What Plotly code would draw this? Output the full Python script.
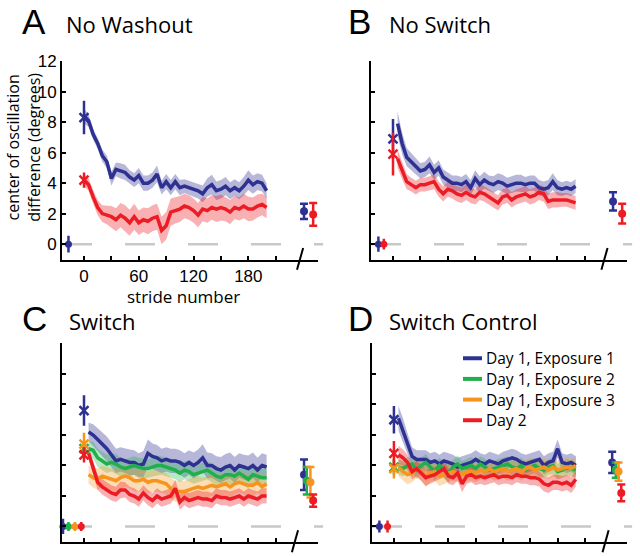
import plotly.graph_objects as go

# ---------------- data ----------------
strides_a = list(range(0, 201, 5))   # panel A curves start at stride 0
strides = list(range(5, 201, 5))     # panels B-D curves start at stride 5

# Panel A: No Washout
a_day1 = [8.4, 8.1, 7.2, 6.6, 5.8, 5.4, 4.3, 4.9, 4.8, 4.7, 4.4, 4.2, 4.5, 4.0, 4.0, 4.2, 4.6, 3.7, 4.1, 3.7,
          4.1, 3.7, 3.8, 3.7, 3.6, 3.5, 3.3, 3.7, 3.9, 3.5, 3.6, 3.8, 3.5, 3.7, 3.5, 3.8, 4.2, 3.9, 4.1, 4.0, 3.5]
a_day1_sem = [0.5, 0.4, 0.35, 0.35, 0.4, 0.4, 0.45, 0.45, 0.5, 0.5, 0.45, 0.45, 0.5, 0.5, 0.5, 0.5, 0.55, 0.45, 0.5, 0.5,
              0.5, 0.5, 0.45, 0.45, 0.5, 0.5, 0.55, 0.6, 0.65, 0.6, 0.6, 0.6, 0.55, 0.55, 0.55, 0.6, 0.65, 0.6, 0.55, 0.55, 0.5]
a_day2 = [4.2, 3.9, 3.1, 2.4, 2.0, 1.9, 1.8, 1.6, 1.9, 1.7, 1.4, 1.8, 1.4, 1.6, 1.5, 1.7, 1.8, 0.9, 1.2, 2.1,
          2.2, 2.3, 2.5, 2.4, 2.2, 1.9, 2.3, 2.2, 2.4, 2.3, 2.4, 2.3, 2.1, 2.4, 2.3, 2.5, 2.3, 2.3, 2.5, 2.6, 2.4]
a_day2_sem = [0.4, 0.4, 0.45, 0.5, 0.55, 0.6, 0.7, 0.75, 0.8, 0.85, 0.85, 0.85, 0.8, 0.8, 0.85, 0.85, 0.85, 0.9, 0.9, 0.9,
              0.85, 0.85, 0.8, 0.8, 0.8, 0.8, 0.8, 0.8, 0.8, 0.85, 0.85, 0.8, 0.8, 0.75, 0.75, 0.8, 0.8, 0.75, 0.75, 0.7, 0.7]

# Panel B: No Switch
b_day1 = [7.9, 6.6, 5.7, 5.4, 5.1, 4.8, 4.9, 5.2, 4.7, 5.0, 4.4, 4.2, 4.0, 4.0, 3.9, 4.1, 3.7, 4.3, 3.9, 4.2,
          4.0, 3.9, 4.1, 4.0, 3.8, 3.9, 4.0, 4.0, 3.9, 4.0, 4.0, 3.7, 3.6, 3.7, 4.1, 3.7, 3.6, 3.7, 3.6, 3.8]
b_day1_sem = [0.8, 0.7, 0.6, 0.55, 0.5, 0.5, 0.5, 0.55, 0.5, 0.5, 0.5, 0.5, 0.5, 0.5, 0.5, 0.5, 0.5, 0.55, 0.55, 0.55,
              0.5, 0.55, 0.55, 0.55, 0.55, 0.55, 0.55, 0.55, 0.5, 0.5, 0.5, 0.5, 0.5, 0.5, 0.55, 0.5, 0.45, 0.45, 0.45, 0.45]
b_day2 = [5.6, 4.8, 4.1, 3.9, 3.7, 3.9, 3.9, 4.0, 4.1, 3.6, 3.3, 3.6, 3.5, 3.3, 3.2, 3.4, 3.2, 3.1, 3.4, 3.3,
          3.1, 2.9, 2.7, 3.1, 3.2, 2.9, 3.1, 3.2, 3.3, 3.1, 3.2, 3.4, 3.3, 2.8, 2.9, 2.9, 2.9, 2.9, 2.8, 2.7]
b_day2_sem = [0.6, 0.55, 0.5, 0.45, 0.45, 0.45, 0.45, 0.45, 0.5, 0.5, 0.5, 0.5, 0.5, 0.5, 0.5, 0.5, 0.5, 0.5, 0.5, 0.5,
              0.5, 0.5, 0.5, 0.5, 0.5, 0.5, 0.5, 0.5, 0.5, 0.5, 0.5, 0.5, 0.5, 0.5, 0.5, 0.5, 0.45, 0.45, 0.45, 0.45]

# Panel C: Switch
c_exp1 = [6.2, 6.0, 5.7, 5.4, 5.1, 4.7, 4.3, 4.4, 4.3, 4.2, 4.2, 4.0, 4.1, 4.8, 4.6, 4.5, 4.3, 4.4, 4.3, 4.3,
          4.2, 4.0, 4.2, 4.0, 4.2, 4.5, 4.0, 4.0, 3.8, 3.7, 3.9, 4.0, 3.7, 4.0, 3.9, 3.8, 4.0, 3.7, 4.0, 3.9]
c_exp1_sem = [0.6, 0.7, 0.75, 0.8, 0.8, 0.8, 0.8, 0.8, 0.8, 0.85, 0.8, 0.8, 0.85, 0.9, 0.85, 0.85, 0.8, 0.8, 0.8, 0.8,
              0.8, 0.8, 0.8, 0.85, 0.85, 0.9, 0.85, 0.8, 0.8, 0.85, 0.85, 0.85, 0.85, 0.8, 0.8, 0.85, 0.85, 0.8, 0.8, 0.8]
c_exp2 = [5.1, 5.0, 4.5, 4.3, 4.1, 4.2, 4.1, 3.9, 3.8, 3.9, 4.0, 3.9, 3.8, 3.8, 3.9, 4.0, 4.0, 3.9, 3.8, 3.7,
          3.5, 3.7, 3.6, 3.4, 3.5, 3.6, 3.7, 3.5, 3.3, 3.2, 3.4, 3.4, 3.3, 3.5, 3.3, 3.1, 3.4, 3.3, 3.2, 3.2]
c_exp2_sem = [0.5, 0.55, 0.6, 0.6, 0.6, 0.6, 0.65, 0.6, 0.6, 0.6, 0.6, 0.6, 0.65, 0.6, 0.6, 0.65, 0.6, 0.6, 0.6, 0.6,
              0.6, 0.6, 0.65, 0.6, 0.6, 0.6, 0.6, 0.6, 0.65, 0.6, 0.6, 0.6, 0.6, 0.6, 0.65, 0.6, 0.6, 0.6, 0.6, 0.6]
c_exp3 = [3.4, 3.2, 3.1, 3.3, 3.2, 3.1, 3.0, 3.2, 3.3, 3.2, 3.0, 3.0, 3.1, 2.9, 3.0, 3.0, 2.9, 2.8, 2.5, 2.3,
          2.3, 2.3, 2.4, 2.5, 2.6, 2.5, 2.6, 2.7, 2.6, 2.7, 2.8, 2.6, 2.8, 2.9, 2.8, 2.7, 2.7, 2.9, 2.6, 2.8]
c_exp3_sem = [0.6, 0.65, 0.7, 0.7, 0.7, 0.7, 0.7, 0.75, 0.7, 0.7, 0.7, 0.7, 0.7, 0.7, 0.75, 0.7, 0.7, 0.7, 0.7, 0.7,
              0.7, 0.7, 0.7, 0.75, 0.7, 0.7, 0.7, 0.7, 0.7, 0.7, 0.7, 0.75, 0.7, 0.7, 0.7, 0.7, 0.7, 0.7, 0.7, 0.7]
c_day2 = [4.8, 3.9, 2.9, 2.6, 2.4, 2.2, 2.1, 2.4, 2.4, 2.1, 2.0, 1.8, 2.2, 1.9, 1.7, 2.0, 1.8, 1.9, 2.0, 2.5,
          1.6, 1.9, 1.7, 1.8, 1.9, 1.8, 1.8, 1.7, 2.0, 1.9, 1.9, 1.8, 1.9, 2.0, 1.8, 2.0, 1.9, 1.8, 2.0, 2.0]
c_day2_sem = [0.4, 0.45, 0.5, 0.5, 0.5, 0.5, 0.5, 0.55, 0.5, 0.5, 0.5, 0.5, 0.5, 0.5, 0.5, 0.5, 0.5, 0.5, 0.5, 0.55,
              0.5, 0.5, 0.5, 0.5, 0.5, 0.5, 0.5, 0.5, 0.5, 0.5, 0.5, 0.5, 0.5, 0.5, 0.5, 0.5, 0.5, 0.5, 0.5, 0.5]

# Panel D: Switch Control
d_exp1 = [7.1, 6.3, 5.4, 4.6, 4.4, 4.4, 4.4, 4.2, 4.3, 4.1, 4.3, 4.2, 4.1, 3.9, 4.0, 4.1, 4.2, 4.4, 4.2, 4.1,
          4.3, 4.2, 4.1, 4.3, 4.4, 4.5, 4.4, 4.2, 4.1, 4.2, 4.3, 4.4, 4.0, 4.2, 4.3, 5.1, 4.2, 4.1, 4.2, 4.0]
d_exp1_sem = [0.8, 0.8, 0.7, 0.6, 0.6, 0.6, 0.6, 0.6, 0.6, 0.6, 0.6, 0.6, 0.6, 0.6, 0.6, 0.6, 0.6, 0.6, 0.6, 0.6,
              0.6, 0.6, 0.6, 0.6, 0.6, 0.6, 0.6, 0.6, 0.6, 0.6, 0.6, 0.6, 0.6, 0.6, 0.6, 0.6, 0.6, 0.6, 0.6, 0.6]
d_exp2 = [3.9, 3.8, 4.0, 4.1, 3.7, 4.0, 4.2, 3.9, 3.6, 4.0, 3.7, 3.5, 3.9, 4.1, 3.8, 3.9, 4.0, 3.8, 4.1, 3.9,
          3.7, 3.8, 3.9, 4.0, 4.1, 3.9, 3.8, 4.0, 3.7, 3.9, 4.0, 3.8, 3.7, 3.9, 4.0, 3.6, 3.7, 3.9, 3.8, 3.7]
d_exp2_sem = [0.5, 0.5, 0.55, 0.5, 0.6, 0.5, 0.55, 0.5, 0.6, 0.5, 0.55, 0.6, 0.5, 0.55, 0.5, 0.5, 0.55, 0.5, 0.5, 0.55,
              0.5, 0.5, 0.55, 0.5, 0.5, 0.55, 0.5, 0.5, 0.55, 0.5, 0.5, 0.55, 0.5, 0.5, 0.55, 0.5, 0.5, 0.5, 0.5, 0.5]
d_exp3 = [3.9, 3.6, 3.4, 3.5, 3.8, 3.6, 3.3, 3.5, 3.6, 3.3, 3.4, 3.5, 3.6, 3.5, 3.4, 3.6, 3.6, 3.5, 3.7, 3.6,
          3.8, 3.6, 3.7, 3.8, 3.6, 3.7, 3.8, 3.6, 3.8, 3.9, 3.7, 3.8, 3.9, 3.7, 3.9, 3.7, 3.8, 3.9, 3.8, 4.0]
d_exp3_sem = [0.6, 0.6, 0.65, 0.6, 0.6, 0.6, 0.7, 0.6, 0.6, 0.65, 0.6, 0.6, 0.6, 0.6, 0.6, 0.6, 0.6, 0.6, 0.6, 0.6,
              0.6, 0.6, 0.6, 0.6, 0.6, 0.6, 0.6, 0.6, 0.6, 0.6, 0.6, 0.6, 0.6, 0.6, 0.6, 0.6, 0.6, 0.6, 0.6, 0.6]
d_day2 = [4.7, 4.5, 4.2, 3.6, 3.8, 3.5, 3.2, 3.3, 3.4, 3.6, 3.8, 3.3, 3.2, 3.5, 2.8, 3.3, 3.4, 3.2, 3.3, 3.2,
          3.3, 3.4, 3.2, 3.3, 3.3, 3.2, 3.4, 3.3, 3.3, 3.2, 3.2, 3.1, 2.8, 2.7, 2.9, 2.9, 2.8, 2.9, 2.7, 3.1]
d_day2_sem = [0.6, 0.55, 0.5, 0.5, 0.5, 0.5, 0.55, 0.5, 0.5, 0.5, 0.55, 0.5, 0.5, 0.5, 0.55, 0.5, 0.5, 0.5, 0.5, 0.5,
              0.5, 0.5, 0.5, 0.5, 0.5, 0.5, 0.5, 0.5, 0.5, 0.5, 0.5, 0.5, 0.5, 0.5, 0.5, 0.5, 0.5, 0.5, 0.5, 0.5]

# first-stride values (x marker at stride 0), mean and error
first_stride = 0
a_first = {"e1": (8.3, 1.1), "d2": (4.2, 0.5)}
b_first = {"e1": (6.9, 1.3), "d2": (5.9, 1.4)}
c_first = {"e1": (7.6, 1.0), "e2": (5.1, 0.4), "e3": (5.4, 0.75), "d2": (4.7, 0.5)}
d_first = {"e1": (7.0, 0.9), "e2": (3.9, 0.5), "e3": (3.8, 0.65), "d2": (4.8, 0.8)}

# baseline values (left of stride 0): position, mean, error
a_base = {"e1": (-17, 0.0, 0.55)}
b_base = {"e1": (-16, 0.0, 0.5), "d2": (-10, 0.0, 0.35)}
c_base = {"e1": (-23, 0.0, 0.5), "e2": (-17, 0.0, 0.3), "e3": (-10, 0.0, 0.3), "d2": (-3, 0.0, 0.3)}
d_base = {"e1": (-16, 0.0, 0.4), "d2": (-7, 0.0, 0.4)}

# post-break values (right of axis break): position, mean, error
a_post = {"e1": (241, 2.15, 0.5), "d2": (251, 1.95, 0.75)}
b_post = {"e1": (241, 2.8, 0.6), "d2": (251, 2.0, 0.65)}
c_post = {"e1": (241, 3.4, 1.0), "e2": (244, 3.0, 0.9), "e3": (248, 2.9, 1.0), "d2": (251, 1.7, 0.4)}
d_post = {"e1": (240, 4.2, 0.7), "e2": (244, 3.7, 0.5), "e3": (247, 3.6, 0.6), "d2": (250, 2.2, 0.55)}

series_names = {"e1": "Day 1, Exposure 1", "e2": "Day 1, Exposure 2", "e3": "Day 1, Exposure 3", "d2": "Day 2"}
x_tick_vals = [0, 30, 60, 90, 120, 150, 180, 210]
x_tick_text = ["0", "", "60", "", "120", "", "180", ""]
y_tick_vals = [0, 2, 4, 6, 8, 10, 12]

# ---------------- styling ----------------
line_col = {"e1": "#2e3192", "e2": "#1fb04b", "e3": "#f7941d", "d2": "#ed1c24"}
band_col = {"e1": "rgba(46,49,146,0.35)", "e2": "rgba(31,176,75,0.30)",
            "e3": "rgba(247,148,29,0.32)", "d2": "rgba(237,28,36,0.35)"}
W, H = 640, 556


def px(x):
    return x / W


def py(y):
    return 1 - y / H


panels = [
    dict(letter="A", title="No Washout", xs=strides_a,
         curves={"e1": (a_day1, a_day1_sem), "d2": (a_day2, a_day2_sem)},
         first=a_first, base=a_base, post=a_post,
         xdom=(62, 318), ydom=(53, 255), brk=0.93,
         let_xy=(20, 13), tit_xy=(64, 15)),
    dict(letter="B", title="No Switch", xs=strides,
         curves={"e1": (b_day1, b_day1_sem), "d2": (b_day2, b_day2_sem)},
         first=b_first, base=b_base, post=b_post,
         xdom=(371, 627), ydom=(53, 255), brk=0.912,
         let_xy=(346, 13), tit_xy=(387, 15)),
    dict(letter="C", title="Switch", xs=strides,
         curves={"e1": (c_exp1, c_exp1_sem), "e2": (c_exp2, c_exp2_sem),
                 "e3": (c_exp3, c_exp3_sem), "d2": (c_day2, c_day2_sem)},
         first=c_first, base=c_base, post=c_post,
         xdom=(62, 318), ydom=(340, 542), brk=0.91,
         let_xy=(20, 315), tit_xy=(67, 317)),
    dict(letter="D", title="Switch Control", xs=strides,
         curves={"e1": (d_exp1, d_exp1_sem), "e2": (d_exp2, d_exp2_sem),
                 "e3": (d_exp3, d_exp3_sem), "d2": (d_day2, d_day2_sem)},
         first=d_first, base=d_base, post=d_post,
         xdom=(372, 627), ydom=(340, 542), brk=0.916,
         let_xy=(346, 315), tit_xy=(387, 317)),
]

fig = go.Figure()
shapes = []
annotations = []
layout_axes = {}

for i, p in enumerate(panels, start=1):
    xa = "x" if i == 1 else f"x{i}"
    ya = "y" if i == 1 else f"y{i}"
    xs = p["xs"]
    # bands
    for key, (m, s) in p["curves"].items():
        upper = [a + b for a, b in zip(m, s)]
        lower = [a - b for a, b in zip(m, s)]
        fig.add_trace(go.Scatter(x=xs + xs[::-1], y=upper + lower[::-1], fill="toself",
                                 fillcolor=band_col[key], line=dict(width=0), mode="lines",
                                 hoverinfo="skip", showlegend=False, xaxis=xa, yaxis=ya))
    # mean lines
    for key, (m, s) in p["curves"].items():
        fig.add_trace(go.Scatter(x=xs, y=m, mode="lines", line=dict(color=line_col[key], width=3.5),
                                 name=series_names[key], showlegend=False, xaxis=xa, yaxis=ya))
    # first stride markers
    for key, (v, e) in p["first"].items():
        fig.add_trace(go.Scatter(x=[first_stride], y=[v], mode="markers",
                                 marker=dict(symbol="x-thin", size=9, line=dict(color=line_col[key], width=2.5)),
                                 error_y=dict(type="data", array=[e], color=line_col[key], thickness=2.5, width=0),
                                 cliponaxis=False, showlegend=False, xaxis=xa, yaxis=ya))
    # baseline points
    for key, (xp, v, e) in p["base"].items():
        fig.add_trace(go.Scatter(x=[xp], y=[v], mode="markers",
                                 marker=dict(symbol="circle", size=7, color=line_col[key]),
                                 error_y=dict(type="data", array=[e], color=line_col[key], thickness=2.5, width=0),
                                 cliponaxis=False, showlegend=False, xaxis=xa, yaxis=ya))
    # post-break points
    for key, (xp, v, e) in p["post"].items():
        fig.add_trace(go.Scatter(x=[xp], y=[v], mode="markers",
                                 marker=dict(symbol="circle", size=8, color=line_col[key]),
                                 error_y=dict(type="data", array=[e], color=line_col[key], thickness=2.5, width=4),
                                 cliponaxis=False, showlegend=False, xaxis=xa, yaxis=ya))

    x0, x1 = p["xdom"]
    y0, y1 = p["ydom"]
    common = dict(showline=True, linecolor="black", linewidth=2, ticks="inside", ticklen=4,
                  tickwidth=1.5, tickcolor="black", showgrid=False, zeroline=False,
                  tickfont=dict(family="Liberation Sans, Arial, sans-serif", size=17, color="black"))
    xkey = "xaxis" if i == 1 else f"xaxis{i}"
    ykey = "yaxis" if i == 1 else f"yaxis{i}"
    layout_axes[xkey] = dict(common, domain=[px(x0), px(x1)], range=[-24.1, 256.3], anchor=ya,
                             tickvals=x_tick_vals, ticktext=x_tick_text, showticklabels=(i == 1))
    layout_axes[ykey] = dict(common, domain=[py(y1), py(y0)], range=[-1.032, 12], anchor=xa,
                             tickvals=y_tick_vals, showticklabels=(i == 1))

    # dashed zero line
    shapes.append(dict(type="line", xref=f"{xa} domain", yref=ya, x0=0, x1=1.02, y0=0, y1=0,
                       line=dict(color="#c8c8c8", width=2.5, dash="30px,33px"), layer="below"))
    # axis break mark
    b = p["brk"]
    shapes.append(dict(type="line", xref=f"{xa} domain", yref=f"{ya} domain",
                       x0=b - 0.012, x1=b + 0.012, y0=-0.05, y1=0.06,
                       line=dict(color="black", width=2)))

    lx, ly = p["let_xy"]
    tx, ty = p["tit_xy"]
    annotations.append(dict(text=p["letter"], x=px(lx), y=py(ly), xref="paper", yref="paper",
                            xanchor="left", yanchor="middle", showarrow=False,
                            font=dict(family="Liberation Sans, Arial, sans-serif", size=35, color="black")))
    annotations.append(dict(text=p["title"], x=px(tx), y=py(ty), xref="paper", yref="paper",
                            xanchor="left", yanchor="middle", showarrow=False,
                            font=dict(family="Open Sans, sans-serif", size=22, color="black")))

# axis titles
annotations.append(dict(text="center of oscillation<br>difference (degrees)", x=px(24), y=py(141),
                        xref="paper", yref="paper", textangle=-90, showarrow=False,
                        xanchor="center", yanchor="middle",
                        font=dict(family="Open Sans, sans-serif", size=16, color="black")))
annotations.append(dict(text="stride number", x=px(183), y=py(292), xref="paper", yref="paper",
                        showarrow=False, xanchor="center", yanchor="middle",
                        font=dict(family="Open Sans, sans-serif", size=17, color="black")))

# legend (panel D)
legend_rows = [("e1", 355), ("e2", 376), ("e3", 397), ("d2", 418)]
for key, yy in legend_rows:
    shapes.append(dict(type="line", xref="paper", yref="paper", x0=px(463), x1=px(482),
                       y0=py(yy), y1=py(yy), line=dict(color=line_col[key], width=4)))
    annotations.append(dict(text=series_names[key], x=px(485), y=py(yy), xref="paper", yref="paper",
                            xanchor="left", yanchor="middle", showarrow=False, borderpad=0,
                            font=dict(family="Open Sans, sans-serif", size=15.5, color="black")))

fig.update_layout(width=W, height=H, margin=dict(l=0, r=0, t=0, b=0),
                  paper_bgcolor="white", plot_bgcolor="white", showlegend=False,
                  shapes=shapes, annotations=annotations, **layout_axes)

fig.write_html("out.html", config={"displayModeBar": False},
               post_script="document.body.style.margin='0';")
